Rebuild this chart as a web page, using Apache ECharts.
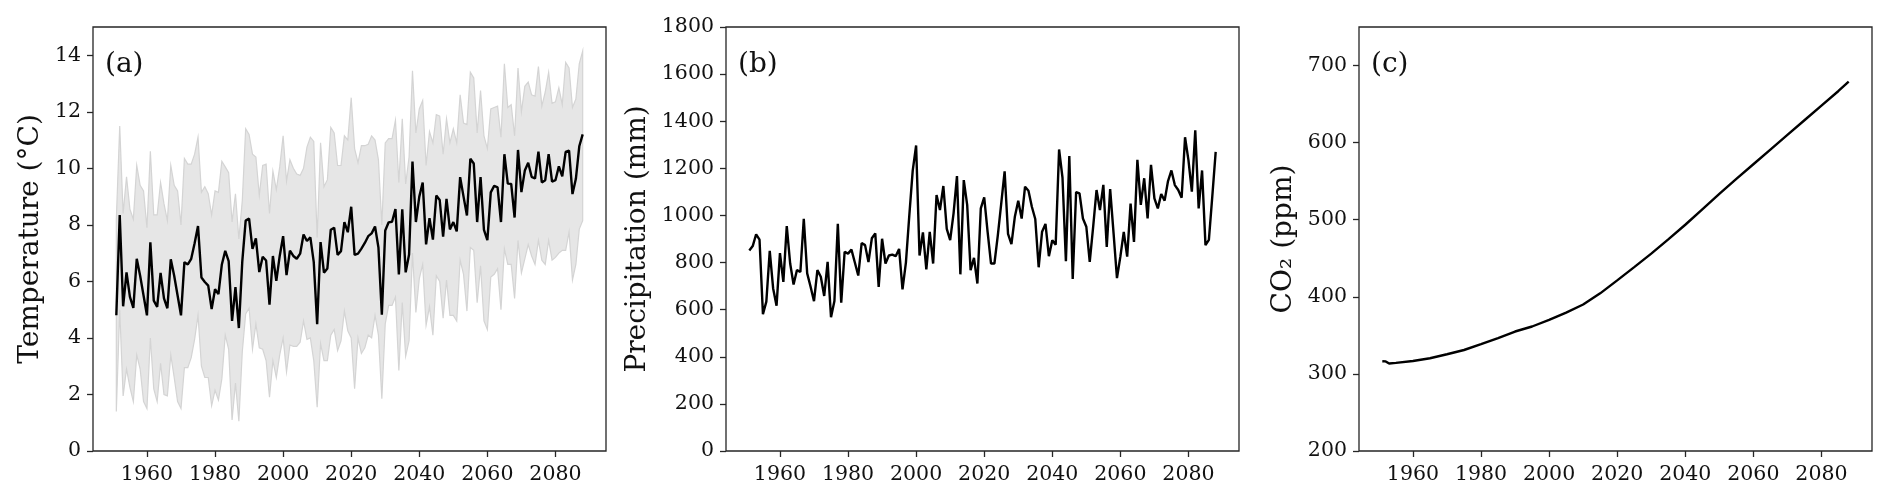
<!DOCTYPE html>
<html><head><meta charset="utf-8">
<script src="https://cdn.jsdelivr.net/npm/echarts@6/dist/echarts.min.js"></script>
<style>html,body{margin:0;padding:0;background:#fff}#c{width:1892px;height:499px}</style>
</head><body><div id="c"></div>
<script>
// ---------- data ----------
const firstYear = 1951, lastYear = 2088;
const years = [];
for (let y = firstYear; y <= lastYear; y++) years.push(y);

const tempMean = [
 4.8, 8.35, 5.12, 6.32, 5.45, 5.06, 6.8, 6.2, 5.5, 4.8,
 7.38, 5.32, 5.1, 6.3, 5.4, 5.05, 6.78, 6.2, 5.5, 4.8,
 6.68, 6.6, 6.8, 7.35, 7.96, 6.14, 5.98, 5.85, 5.02, 5.72,
 5.55, 6.6, 7.08, 6.72, 4.6, 5.8, 4.35, 6.7, 8.15, 8.22,
 7.15, 7.52, 6.33, 6.87, 6.74, 5.18, 6.9, 6.02, 6.9, 7.6,
 6.22, 7.09, 6.9, 6.8, 6.98, 7.66, 7.43, 7.56, 6.68, 4.49,
 7.39, 6.31, 6.46, 7.83, 7.9, 6.94, 7.07, 8.1, 7.74, 8.64,
 6.94, 6.98, 7.16, 7.36, 7.6, 7.7, 7.94, 7.2, 4.82, 7.8,
 8.09, 8.11, 8.56, 6.25, 8.55, 6.32, 6.95, 10.24, 8.1, 9.0,
 9.5, 7.31, 8.24, 7.48, 9.04, 8.88, 7.58, 8.92, 7.84, 8.1,
 7.77, 9.69, 9.0, 8.33, 10.34, 10.17, 8.1, 9.69, 7.82, 7.46,
 9.15, 9.38, 9.33, 8.1, 10.5, 9.46, 9.45, 8.26, 10.65, 9.16,
 9.92, 10.2, 9.7, 9.64, 10.59, 9.5, 9.58, 10.5, 9.53, 9.58,
 10.07, 9.72, 10.58, 10.63, 9.09, 9.63, 10.78, 11.2
];
const tempUpper = [
 8.2, 11.5, 8.4, 9.7, 8.55, 8.2, 10.1, 9.4, 9.2, 7.9,
 10.6, 8.35, 8.35, 9.5, 8.75, 8.15, 10.1, 9.4, 9.2, 8.0,
 10.35, 10.15, 10.15, 10.5, 11.1, 9.15, 9.35, 9.1, 8.35, 9.2,
 9.15, 10.25, 10.05, 9.85, 8.1, 9.1, 7.5, 8.85, 11.4, 11.2,
 10.5, 10.4, 9.05, 10.1, 10.15, 8.4, 9.9, 9.25, 10.05, 11.15,
 9.55, 10.3, 10.0, 9.8, 9.75, 10.0, 10.75, 11.1, 10.95, 7.55,
 10.9, 9.35, 9.6, 11.45, 11.25, 10.1, 10.1, 11.15, 11.0, 12.5,
 10.7, 10.2, 10.8, 10.8, 10.85, 11.15, 11.0, 10.3, 8.0, 10.9,
 11.05, 11.05, 11.7, 9.5, 11.75, 9.45, 10.4, 13.45, 11.25, 12.1,
 12.4, 10.1, 11.3, 10.9, 11.9, 11.85, 10.5, 11.75, 10.9, 11.4,
 10.9, 12.6, 11.6, 11.55, 13.4, 13.2, 11.25, 12.75, 11.15, 10.7,
 12.1, 12.15, 12.2, 11.1, 13.7, 12.15, 12.25, 11.15, 13.55, 12.0,
 12.9, 13.05, 12.6, 12.55, 13.6, 12.2, 12.7, 13.4, 12.3, 12.35,
 12.85, 12.25, 13.75, 13.55, 12.15, 12.45, 13.7, 14.15
];
const tempLower = [
 1.4, 5.0, 1.95, 2.9, 2.25, 1.75, 3.4, 2.9, 1.75, 1.5,
 4.0, 2.2, 1.75, 3.1, 2.0, 1.95, 3.4, 2.6, 1.75, 1.5,
 2.95, 2.95, 3.3, 3.95, 4.8, 3.0, 2.6, 2.6, 1.6, 2.15,
 1.8, 2.55, 4.1, 3.6, 1.1, 2.4, 1.05, 3.5, 4.85, 5.05,
 3.6, 4.5, 3.65, 3.6, 3.2, 1.9, 3.2, 2.6, 3.4, 4.0,
 2.8, 3.75, 3.7, 3.7, 3.85, 4.6, 3.95, 4.0, 3.2, 1.55,
 3.8, 3.2, 3.2, 4.1, 4.3, 3.55, 3.9, 4.95, 4.25, 4.0,
 2.2, 4.0, 3.45, 3.65, 4.1, 4.0, 4.8, 4.1, 1.85, 4.5,
 5.15, 5.15, 5.45, 2.85, 5.25, 3.35, 3.9, 7.0, 4.9, 6.1,
 6.6, 4.45, 5.1, 4.1, 6.2, 6.0, 4.7, 6.05, 4.8, 4.8,
 4.6, 6.75, 6.25, 4.95, 7.2, 7.1, 5.25, 6.55, 4.6, 4.3,
 6.15, 6.25, 6.45, 5.0, 7.15, 6.6, 6.6, 5.4, 7.45, 6.3,
 6.8, 7.3, 6.9, 6.6, 7.45, 6.75, 6.6, 7.45, 6.75, 6.85,
 7.0, 7.1, 7.1, 7.75, 6.05, 6.6, 7.85, 8.15
];
const precip = [
 851, 870, 920, 897, 581, 634, 850, 690, 617, 840,
 718, 955, 796, 707, 768, 760, 986, 754, 697, 636,
 768, 740, 658, 803, 568, 637, 964, 630, 846, 838,
 855, 800, 745, 883, 874, 802, 903, 924, 697, 901,
 796, 830, 834, 827, 858, 686, 800, 1000, 1190, 1297,
 830, 928, 771, 930, 796, 1087, 1023, 1125, 943, 895,
 1009, 1167, 750, 1150, 1045, 768, 820, 711, 1030, 1077,
 930, 796, 796, 915, 1050, 1187, 922, 878, 994, 1062,
 987, 1122, 1105, 1037, 985, 780, 931, 964, 827, 895,
 876, 1280, 1160, 806, 1252, 730, 1099, 1094, 987, 952,
 803, 950, 1108, 1023, 1130, 866, 1112, 925, 734, 825,
 930, 825, 1050, 888, 1236, 1045, 1158, 987, 1215, 1072,
 1030, 1091, 1063, 1146, 1191, 1129, 1108, 1075, 1332, 1235,
 1101, 1361, 1030, 1191, 874, 896, 1080, 1270
];
const co2Years = [1951, 1952, 1953, 1955, 1960, 1965, 1970, 1975, 1980, 1985, 1990, 1995, 2000, 2005, 2010,
 2015, 2020, 2025, 2030, 2035, 2040, 2045, 2050, 2055, 2060, 2065, 2070, 2075, 2080, 2085, 2088];
const co2Values = [316.5, 316.2, 313.5, 314.3, 316.8, 320.3, 325.5, 331, 338.5, 346.5, 355, 361.5, 370, 379.5, 390,
 404.5, 421.3, 438.5, 456, 474.5, 493.5, 513.5, 533.5, 553, 572, 591, 610, 629, 648, 667, 679];

const xTicks = [1960, 1980, 2000, 2020, 2040, 2060, 2080];
const tempTicks = [0, 2, 4, 6, 8, 10, 12, 14];
const precipTicks = [0, 200, 400, 600, 800, 1000, 1200, 1400, 1600, 1800];
const co2Ticks = [200, 300, 400, 500, 600, 700];
const xRange = [1944.15, 2094.85];
const panelTitles = ['(a)', '(b)', '(c)'];
const yNames = ['Temperature (°C)', 'Precipitation (mm)', 'CO₂ (ppm)'];

// ---------- chart ----------
const FONT = 'DejaVu Serif';
const TXT = '#111';
const AX = '#262626';
const lefts = [93, 726, 1359];
const W = 513, TOP = 27, H = 424;

function xAx(i) {
  return {
    type: 'value', gridIndex: i, min: xRange[0], max: xRange[1],
    splitLine: { show: false },
    axisLine: { show: false, onZero: false },
    axisTick: { show: true, length: 6, lineStyle: { color: AX, width: 1.3 }, customValues: xTicks },
    axisLabel: { customValues: xTicks, margin: 13, fontFamily: FONT, fontSize: 20.5, color: TXT,
      formatter: v => String(v) }
  };
}
function yAx(i, min, max, ticks, name, gap) {
  return {
    type: 'value', gridIndex: i, min: min, max: max,
    name: name, nameLocation: 'middle', nameGap: gap,
    nameTextStyle: { fontFamily: FONT, fontSize: 28, color: TXT },
    splitLine: { show: false },
    axisLine: { show: false, onZero: false },
    axisTick: { show: true, length: 6, lineStyle: { color: AX, width: 1.3 }, customValues: ticks },
    axisLabel: { customValues: ticks, margin: 12, fontFamily: FONT, fontSize: 20.5, color: TXT,
      formatter: v => String(v) }
  };
}
const pair = (xs, ys) => xs.map((x, i) => [x, ys[i]]);
const lineBase = { type: 'line', symbol: 'none', showSymbol: false, silent: true, animation: false };

// shaded band (lower..upper) as one polygon, positioned through the axis scales
const bandSeries = {
  type: 'custom', coordinateSystem: 'cartesian2d', xAxisIndex: 0, yAxisIndex: 0, z: 1, silent: true,
  data: years.map((y, i) => [y, tempLower[i], tempUpper[i]]),
  encode: { x: 0, y: [1, 2] },
  renderItem: function (params, api) {
    if (params.dataIndex !== 0) return null;
    const pts = [];
    for (let i = 0; i < years.length; i++) pts.push(api.coord([years[i], tempUpper[i]]));
    for (let i = years.length - 1; i >= 0; i--) pts.push(api.coord([years[i], tempLower[i]]));
    return { type: 'polygon', shape: { points: pts },
      style: { fill: '#e6e6e6', stroke: '#d4d4d4', lineWidth: 1.2 } };
  }
};

const option = {
  animation: false,
  backgroundColor: '#fff',
  title: panelTitles.map((t, i) => ({
    text: t, left: lefts[i] + 7, top: 46,
    textStyle: { fontFamily: FONT, fontSize: 28, fontWeight: 'normal', color: TXT }
  })),
  grid: lefts.map(l => ({ left: l, top: TOP, width: W, height: H, show: true,
    borderColor: AX, borderWidth: 1.3, backgroundColor: 'transparent', containLabel: false })),
  xAxis: [xAx(0), xAx(1), xAx(2)],
  yAxis: [
    yAx(0, 0, 15, tempTicks, yNames[0], 48),
    yAx(1, 0, 1800, precipTicks, yNames[1], 74),
    yAx(2, 200, 750, co2Ticks, yNames[2], 61)
  ],
  series: [
    bandSeries,
    Object.assign({}, lineBase, { xAxisIndex: 0, yAxisIndex: 0, z: 3,
      data: pair(years, tempMean), lineStyle: { color: '#000', width: 2.4 } }),
    Object.assign({}, lineBase, { xAxisIndex: 1, yAxisIndex: 1, z: 3,
      data: pair(years, precip), lineStyle: { color: '#000', width: 2.4 } }),
    Object.assign({}, lineBase, { xAxisIndex: 2, yAxisIndex: 2, z: 3,
      data: pair(co2Years, co2Values), lineStyle: { color: '#000', width: 2.4 } })
  ]
};
const chart = echarts.init(document.getElementById('c'), null, { renderer: 'canvas' });
chart.setOption(option);
</script></body></html>
